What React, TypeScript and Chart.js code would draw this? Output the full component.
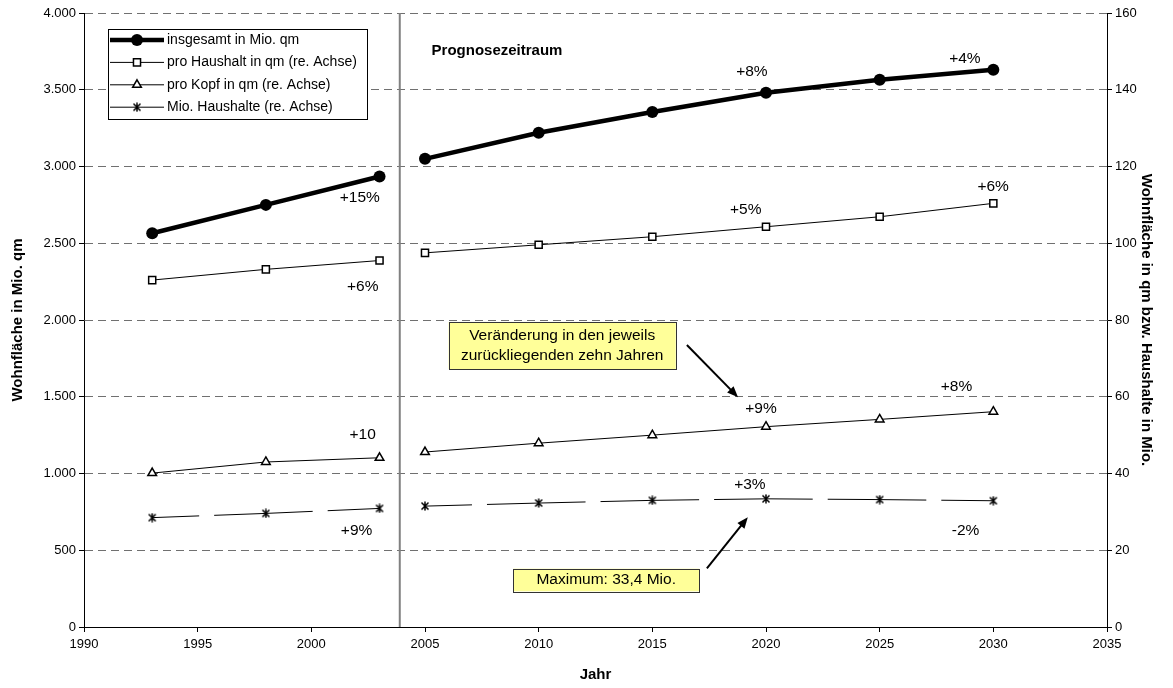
import React, { useEffect, useRef } from 'react';
import { Chart, registerables } from 'chart.js';

Chart.register(...registerables);

// ---- data -------------------------------------------------------------
const historyYears = [1993, 1998, 2003];
const forecastYears = [2005, 2010, 2015, 2020, 2025, 2030];
const gapYear = 2004; // break between observed values and forecast

// total living space, million m² (left axis)
const totalHistory = [2565, 2750, 2935];
const totalForecast = [3050, 3220, 3355, 3480, 3565, 3630];
// m² per household (right axis)
const perHouseholdHistory = [90.4, 93.2, 95.5];
const perHouseholdForecast = [97.5, 99.6, 101.7, 104.3, 106.9, 110.4];
// m² per person (right axis)
const perCapitaHistory = [40.1, 43.0, 44.1];
const perCapitaForecast = [45.6, 47.9, 50.0, 52.2, 54.1, 56.1];
// million households (right axis)
const householdsHistory = [28.5, 29.6, 30.9];
const householdsForecast = [31.5, 32.3, 33.0, 33.4, 33.2, 32.9];

const seriesLabels = [
  'insgesamt in Mio. qm',
  'pro Haushalt in qm (re. Achse)',
  'pro Kopf in qm (re. Achse)',
  'Mio. Haushalte (re. Achse)',
];

const xTickLabels = ['1990', '1995', '2000', '2005', '2010', '2015', '2020', '2025', '2030', '2035'];
const leftTickLabels = ['0', '500', '1.000', '1.500', '2.000', '2.500', '3.000', '3.500', '4.000'];
const rightTickLabels = ['0', '20', '40', '60', '80', '100', '120', '140', '160'];

const xTitle = 'Jahr';
const leftTitle = 'Wohnfläche in Mio. qm';
const rightTitle = 'Wohnfläche in qm bzw. Haushalte in Mio.';

// ten-year change labels, placed in (year, right-axis value) coordinates
const changeLabels = [
  { text: '+15%', year: 2002.13, value: 111.8 },
  { text: '+6%', year: 2002.26, value: 88.6 },
  { text: '+10', year: 2002.26, value: 50.0 },
  { text: '+9%', year: 2001.99, value: 25.2 },
  { text: '+8%', year: 2019.38, value: 144.7 },
  { text: '+4%', year: 2028.75, value: 148.0 },
  { text: '+5%', year: 2019.11, value: 108.7 },
  { text: '+6%', year: 2029.99, value: 114.7 },
  { text: '+9%', year: 2019.78, value: 57.0 },
  { text: '+8%', year: 2028.38, value: 62.5 },
  { text: '+3%', year: 2019.29, value: 37.0 },
  { text: '-2%', year: 2028.78, value: 25.2 },
];

const forecastDivider = 2003.89;
const forecastTitle = { text: 'Prognosezeitraum', year: 2005.29, value: 150.2 };

const noteBoxes = [
  {
    lines: ['Veränderung in den jeweils', 'zurückliegenden zehn Jahren'],
    fromYear: 2006.04, toYear: 2016.03, top: 79.5, bottom: 67.2,
    arrow: { fromYear: 2016.52, fromValue: 73.5, toYear: 2018.77, toValue: 59.9 },
  },
  {
    lines: ['Maximum: 33,4 Mio.'],
    fromYear: 2008.88, toYear: 2017.06, top: 15.2, bottom: 9.3,
    arrow: { fromYear: 2017.4, fromValue: 15.3, toYear: 2019.2, toValue: 28.6 },
  },
];

// ---- helpers ----------------------------------------------------------
const FONT = '"Liberation Sans", Arial, Helvetica, sans-serif';

const joinSeries = (hist: number[], fut: number[]) => [
  ...historyYears.map((x, i) => ({ x, y: hist[i] })),
  { x: gapYear, y: null as number | null },
  ...forecastYears.map((x, i) => ({ x, y: fut[i] })),
];

function makeStar(): HTMLCanvasElement {
  const c = document.createElement('canvas');
  c.width = 10;
  c.height = 10;
  const g = c.getContext('2d')!;
  g.strokeStyle = '#000';
  g.lineWidth = 1.5;
  g.beginPath();
  g.moveTo(1.5, 1.5); g.lineTo(8.5, 8.5);
  g.moveTo(8.5, 1.5); g.lineTo(1.5, 8.5);
  g.moveTo(5, 0.5); g.lineTo(5, 9.5);
  g.stroke();
  return c;
}

function drawMarker(ctx: CanvasRenderingContext2D, kind: string, x: number, y: number, star: HTMLCanvasElement) {
  ctx.save();
  ctx.setLineDash([]);
  if (kind === 'circle') {
    ctx.fillStyle = '#000';
    ctx.beginPath();
    ctx.arc(x, y, 6, 0, Math.PI * 2);
    ctx.fill();
  } else if (kind === 'rect') {
    const s = 5 * Math.SQRT1_2;
    ctx.fillStyle = '#fff';
    ctx.strokeStyle = '#000';
    ctx.lineWidth = 1.5;
    ctx.beginPath();
    ctx.rect(x - s, y - s, 2 * s, 2 * s);
    ctx.fill();
    ctx.stroke();
  } else if (kind === 'triangle') {
    const r = 5;
    ctx.fillStyle = '#fff';
    ctx.strokeStyle = '#000';
    ctx.lineWidth = 1.5;
    ctx.beginPath();
    for (let k = 0; k < 3; k++) {
      const a = (k * 2 * Math.PI) / 3;
      const px = x + Math.sin(a) * r;
      const py = y - Math.cos(a) * r;
      if (k === 0) ctx.moveTo(px, py); else ctx.lineTo(px, py);
    }
    ctx.closePath();
    ctx.fill();
    ctx.stroke();
  } else {
    ctx.drawImage(star, x - star.width / 2, y - star.height / 2);
  }
  ctx.restore();
}

function drawArrow(ctx: CanvasRenderingContext2D, x1: number, y1: number, x2: number, y2: number) {
  const a = Math.atan2(y2 - y1, x2 - x1);
  const head = 11;
  const half = 4.5;
  const cos = Math.cos(a);
  const sin = Math.sin(a);
  ctx.save();
  ctx.strokeStyle = '#000';
  ctx.fillStyle = '#000';
  ctx.lineWidth = 2;
  ctx.beginPath();
  ctx.moveTo(x1, y1);
  ctx.lineTo(x2 - head * 0.8 * cos, y2 - head * 0.8 * sin);
  ctx.stroke();
  ctx.beginPath();
  ctx.moveTo(x2, y2);
  ctx.lineTo(x2 - head * cos + half * sin, y2 - head * sin - half * cos);
  ctx.lineTo(x2 - head * cos - half * sin, y2 - head * sin + half * cos);
  ctx.closePath();
  ctx.fill();
  ctx.restore();
}

export default function App() {
  const canvasRef = useRef<HTMLCanvasElement | null>(null);

  useEffect(() => {
    const canvas = canvasRef.current;
    if (!canvas) return;
    const star = makeStar();
    const markerKinds = ['circle', 'rect', 'triangle', 'star'];

    const overlay = {
      id: 'overlay',
      beforeDatasetsDraw(chart: any) {
        const { ctx, chartArea, scales } = chart;
        const x = scales.x.getPixelForValue(forecastDivider);
        ctx.save();
        ctx.strokeStyle = '#808080';
        ctx.lineWidth = 2;
        ctx.beginPath();
        ctx.moveTo(x, chartArea.top);
        ctx.lineTo(x, chartArea.bottom);
        ctx.stroke();
        ctx.restore();
      },
      afterDraw(chart: any) {
        const { ctx, chartArea, scales } = chart;
        const xs = scales.x;
        const yr = scales.y1;

        // legend
        const lx = chartArea.left + 24;
        const ly = chartArea.top + 16;
        const lw = 259;
        const lh = 90;
        ctx.save();
        ctx.fillStyle = '#fff';
        ctx.strokeStyle = '#000';
        ctx.lineWidth = 1;
        ctx.fillRect(lx, ly, lw, lh);
        ctx.strokeRect(lx + 0.5, ly + 0.5, lw, lh);
        ctx.font = `14px ${FONT}`;
        ctx.textBaseline = 'middle';
        ctx.textAlign = 'left';
        chart.data.datasets.forEach((ds: any, i: number) => {
          const y = ly + 11 + i * 22.4;
          ctx.save();
          ctx.strokeStyle = '#000';
          ctx.lineWidth = ds.borderWidth;
          ctx.beginPath();
          ctx.moveTo(lx + 2, y);
          ctx.lineTo(lx + 56, y);
          ctx.stroke();
          ctx.restore();
          drawMarker(ctx, markerKinds[i], lx + 29, y, star);
          ctx.fillStyle = '#000';
          ctx.fillText(ds.label, lx + 59, y);
        });
        ctx.restore();

        // change labels
        ctx.save();
        ctx.fillStyle = '#000';
        ctx.font = `15.5px ${FONT}`;
        ctx.textAlign = 'center';
        ctx.textBaseline = 'middle';
        changeLabels.forEach((l) => {
          ctx.fillText(l.text, xs.getPixelForValue(l.year), yr.getPixelForValue(l.value));
        });
        ctx.font = `bold 15px ${FONT}`;
        ctx.textAlign = 'left';
        ctx.fillText(
          forecastTitle.text,
          xs.getPixelForValue(forecastTitle.year),
          yr.getPixelForValue(forecastTitle.value)
        );
        ctx.restore();

        // note boxes with arrows
        noteBoxes.forEach((b) => {
          const x1 = xs.getPixelForValue(b.fromYear);
          const x2 = xs.getPixelForValue(b.toYear);
          const y1 = yr.getPixelForValue(b.top);
          const y2 = yr.getPixelForValue(b.bottom);
          ctx.save();
          ctx.fillStyle = '#FFFF99';
          ctx.strokeStyle = '#333';
          ctx.lineWidth = 1;
          ctx.fillRect(x1, y1, x2 - x1, y2 - y1);
          ctx.strokeRect(Math.round(x1) + 0.5, Math.round(y1) + 0.5, Math.round(x2 - x1), Math.round(y2 - y1));
          ctx.fillStyle = '#000';
          ctx.font = `15.5px ${FONT}`;
          ctx.textAlign = 'center';
          ctx.textBaseline = 'middle';
          const cx = (x1 + x2) / 2;
          const cy = (y1 + y2) / 2;
          const step = 20;
          b.lines.forEach((t, i) => {
            ctx.fillText(t, cx, cy + (i - (b.lines.length - 1) / 2) * step);
          });
          ctx.restore();
          const a = b.arrow;
          drawArrow(
            ctx,
            xs.getPixelForValue(a.fromYear),
            yr.getPixelForValue(a.fromValue),
            xs.getPixelForValue(a.toYear),
            yr.getPixelForValue(a.toValue)
          );
        });
      },
    };

    const tickFont = { family: FONT, size: 13 };
    const titleFont = { family: FONT, size: 15, weight: 'bold' as const };

    const chart = new Chart(canvas, {
      type: 'line',
      data: {
        datasets: [
          {
            label: seriesLabels[0],
            data: joinSeries(totalHistory, totalForecast),
            yAxisID: 'y',
            borderColor: '#000',
            borderWidth: 4.5,
            pointStyle: 'circle',
            pointRadius: 6,
            pointBackgroundColor: '#000',
            pointBorderColor: '#000',
            pointBorderWidth: 0,
          },
          {
            label: seriesLabels[1],
            data: joinSeries(perHouseholdHistory, perHouseholdForecast),
            yAxisID: 'y1',
            borderColor: '#000',
            borderWidth: 1,
            pointStyle: 'rect',
            pointRadius: 5,
            pointBackgroundColor: '#fff',
            pointBorderColor: '#000',
            pointBorderWidth: 1.5,
          },
          {
            label: seriesLabels[2],
            data: joinSeries(perCapitaHistory, perCapitaForecast),
            yAxisID: 'y1',
            borderColor: '#000',
            borderWidth: 1,
            pointStyle: 'triangle',
            pointRadius: 5,
            pointBackgroundColor: '#fff',
            pointBorderColor: '#000',
            pointBorderWidth: 1.5,
          },
          {
            label: seriesLabels[3],
            data: joinSeries(householdsHistory, householdsForecast),
            yAxisID: 'y1',
            borderColor: '#000',
            borderWidth: 1,
            borderDash: [47, 15, 51.6, 0],
            pointStyle: star,
            pointRadius: 5,
          },
        ] as any,
      },
      options: {
        responsive: false,
        animation: false,
        events: [],
        layout: { padding: { top: 13, left: 0, right: 0, bottom: 0 } },
        plugins: { legend: { display: false }, tooltip: { enabled: false } },
        scales: {
          x: {
            type: 'linear',
            min: 1990,
            max: 2035,
            ticks: {
              stepSize: 5,
              font: tickFont,
              color: '#000',
              padding: 5,
              maxRotation: 0,
              callback: (v: any) => xTickLabels[Math.round((Number(v) - 1990) / 5)] ?? '',
            },
            grid: {
              drawOnChartArea: false,
              drawTicks: true,
              tickLength: 5,
              tickColor: '#000',
              tickWidth: 1,
              tickBorderDash: [],
            },
            border: { display: true, color: '#000', width: 1 },
            title: { display: true, text: xTitle, font: titleFont, color: '#000', padding: { top: 0, bottom: 4 } },
            afterFit: (s: any) => { s.height = 61; },
          },
          y: {
            type: 'linear',
            position: 'left',
            min: 0,
            max: 4000,
            ticks: {
              stepSize: 500,
              font: tickFont,
              color: '#000',
              padding: 3,
              callback: (v: any) => leftTickLabels[Math.round(Number(v) / 500)] ?? '',
            },
            grid: {
              color: '#707070',
              lineWidth: 1,
              drawTicks: true,
              tickLength: 5,
              tickColor: '#000',
              tickWidth: 1,
              tickBorderDash: [],
            },
            border: { display: true, color: '#000', width: 1, dash: [8, 5] },
            title: { display: true, text: leftTitle, font: titleFont, color: '#000', padding: { top: 9, bottom: 0 } },
            afterFit: (s: any) => { s.width = 84; },
          },
          y1: {
            type: 'linear',
            position: 'right',
            min: 0,
            max: 160,
            ticks: {
              stepSize: 20,
              font: tickFont,
              color: '#000',
              padding: 3,
              callback: (v: any) => rightTickLabels[Math.round(Number(v) / 20)] ?? '',
            },
            grid: {
              drawOnChartArea: false,
              drawTicks: true,
              tickLength: 5,
              tickColor: '#000',
              tickWidth: 1,
              tickBorderDash: [],
            },
            border: { display: true, color: '#000', width: 1 },
            title: { display: true, text: rightTitle, font: titleFont, color: '#000', padding: { top: 18, bottom: 0 } },
            afterFit: (s: any) => { s.width = 66; },
          },
        },
      } as any,
      plugins: [overlay],
    });

    return () => chart.destroy();
  }, []);

  return (
    <div style={{ position: 'absolute', left: 0, top: 0, width: 1173, height: 688, background: '#fff' }}>
      <canvas ref={canvasRef} width={1173} height={688} style={{ display: 'block' }} />
    </div>
  );
}
